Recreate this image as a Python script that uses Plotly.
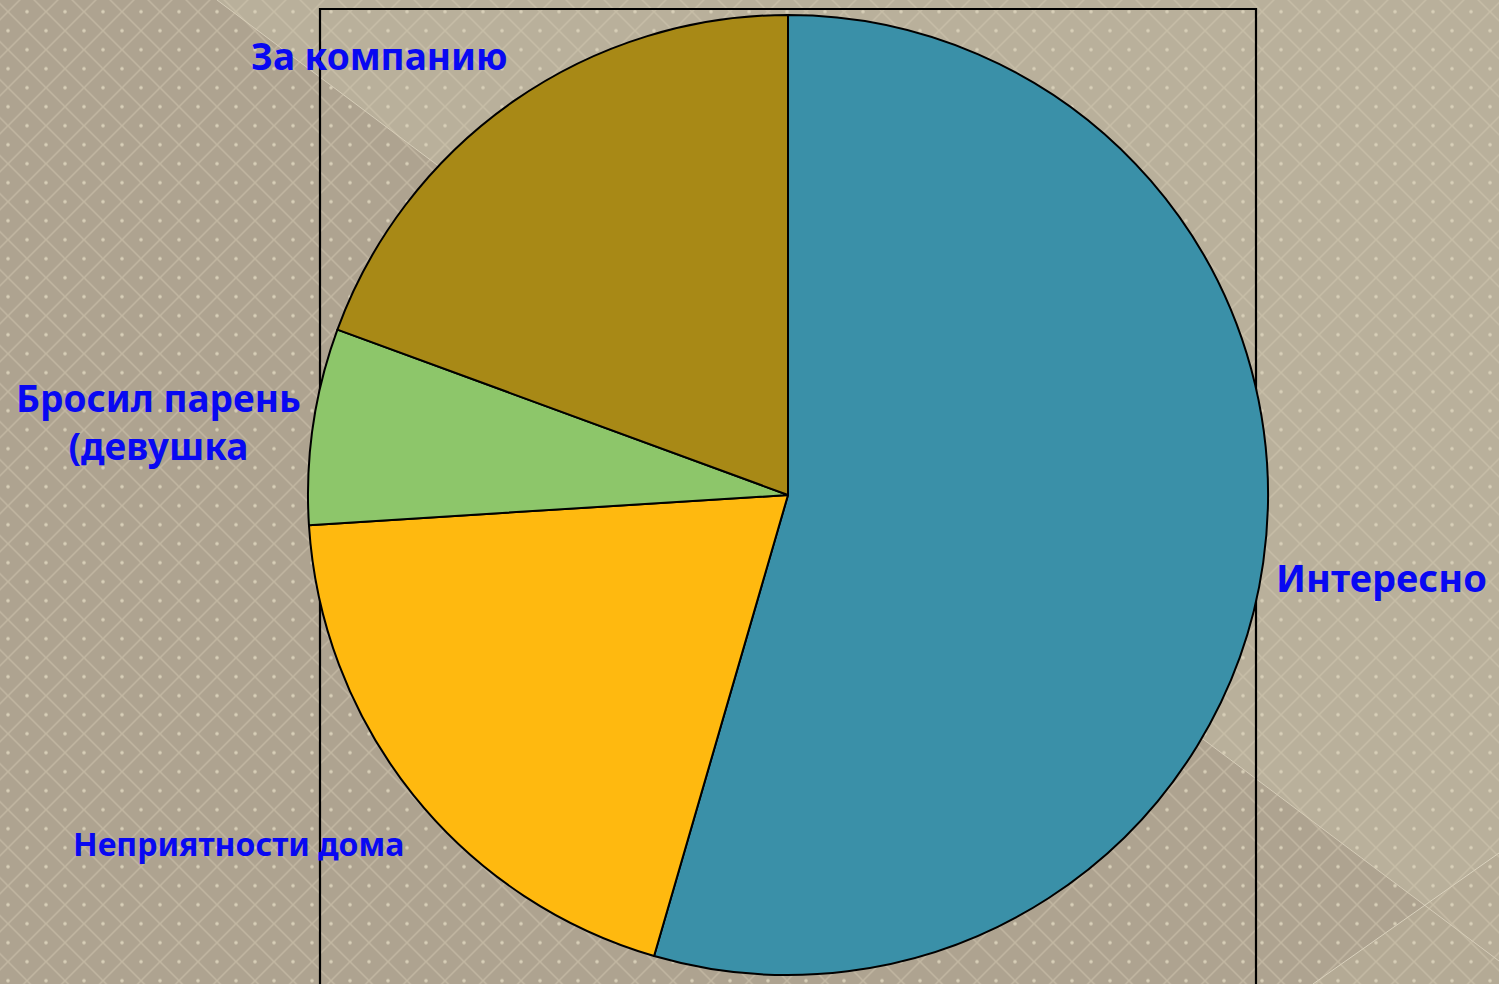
import base64
import plotly.graph_objects as go

# ---- data ----
labels = ["Интересно", "Неприятности дома", "Бросил парень<br>(девушка", "За компанию"]
values = [54.5, 19.5, 6.6, 19.4]
colors = ["#3A90A8", "#FFB90F", "#8DC66A", "#A88916"]

W, H = 1499, 984

# label placement (pixel centers) and font sizes
label_pos = [(1381, 577, 38), (238, 843, 32), (158, 421, 37), (379, 55, 37)]

# ---- textured background as an SVG image ----
svg = f'''<svg xmlns="http://www.w3.org/2000/svg" width="{W}" height="{H}" viewBox="0 0 {W} {H}">
<defs>
<pattern id="p" x="8" y="11.7" width="38" height="38" patternUnits="userSpaceOnUse">
<path d="M0 0L38 38M38 0L0 38" stroke="#D6CCB3" stroke-opacity="0.5" stroke-width="1.5" fill="none"/>
<circle cx="19" cy="0" r="1.8" fill="#D8CFB8"/>
<circle cx="19" cy="38" r="1.8" fill="#D8CFB8"/>
<circle cx="0" cy="19" r="1.8" fill="#D8CFB8"/>
<circle cx="38" cy="19" r="1.8" fill="#D8CFB8"/>
</pattern>
</defs>
<rect x="0" y="0" width="{W}" height="{H}" fill="#AEA390"/>
<polygon points="217,0 {W},0 {W},961" fill="#B9B09B"/>
<polygon points="1313,{H} {W},853 {W},{H}" fill="#B5AB96" fill-opacity="0.8"/>
<line x1="217" y1="0" x2="{W}" y2="961" stroke="#E4DCC8" stroke-opacity="0.7" stroke-width="1"/>
<line x1="1313" y1="{H}" x2="{W}" y2="853" stroke="#E4DCC8" stroke-opacity="0.8" stroke-width="1"/>
<rect x="0" y="0" width="{W}" height="{H}" fill="url(#p)"/>
</svg>'''
bg_uri = "data:image/svg+xml;base64," + base64.b64encode(svg.encode("utf-8")).decode("ascii")

# ---- pie geometry ----
cx, cy, r = 788, 495, 480
dom_x = [(cx - r) / W, (cx + r) / W]
dom_y = [(H - cy - r) / H, (H - cy + r) / H]

fig = go.Figure(
    go.Pie(
        labels=labels,
        values=values,
        sort=False,
        direction="clockwise",
        rotation=0,
        marker=dict(colors=colors, line=dict(color="#000000", width=2)),
        textinfo="none",
        hoverinfo="skip",
        showlegend=False,
        domain=dict(x=dom_x, y=dom_y),
    )
)

annotations = []
for lab, (px, py, fs) in zip(labels, label_pos):
    annotations.append(
        dict(
            text=f"<b>{lab}</b>",
            x=px / W,
            y=1 - py / H,
            xref="paper",
            yref="paper",
            xanchor="center",
            yanchor="middle",
            showarrow=False,
            align="center",
            font=dict(family="Noto Sans", size=fs, color="#0808F2"),
        )
    )

fig.update_layout(
    width=W,
    height=H,
    margin=dict(l=0, r=0, t=0, b=0),
    paper_bgcolor="#AEA390",
    plot_bgcolor="rgba(0,0,0,0)",
    images=[
        dict(
            source=bg_uri,
            xref="paper",
            yref="paper",
            x=0,
            y=1,
            sizex=1,
            sizey=1,
            xanchor="left",
            yanchor="top",
            sizing="stretch",
            layer="below",
        )
    ],
    shapes=[
        dict(
            type="path",
            xref="paper",
            yref="paper",
            path=f"M {320/W} -0.05 L {320/W} {1-9/H} L {1256/W} {1-9/H} L {1256/W} -0.05",
            line=dict(color="#000000", width=2.2),
            layer="below",
        )
    ],
    annotations=annotations,
)

fig.write_html(
    "out.html",
    config={"displayModeBar": False},
    post_script="document.body.style.margin='0';document.body.style.overflow='hidden';",
)
